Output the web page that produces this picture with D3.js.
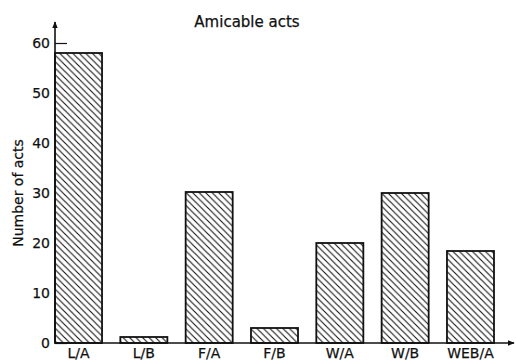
<!DOCTYPE html>
<html>
<head>
<meta charset="utf-8">
<script src="https://cdn.jsdelivr.net/npm/d3@7.9.0/dist/d3.min.js"></script>
<style>
  html, body { margin: 0; padding: 0; background: #fff; }
  svg { display: block; font-family: 'DejaVu Sans', sans-serif; }
  svg text { stroke: #111; stroke-width: 0.25px; }
</style>
</head>
<body>
<div id="chart"></div>
<script>
// DATA
const groups = ['L/A', 'L/B', 'F/A', 'F/B', 'W/A', 'W/B', 'WEB/A'];
const counts = [58, 1.2, 30.2, 3, 20, 30, 18.4];
const yTicks = [0, 10, 20, 30, 40, 50, 60];
const title = 'Amicable acts';
const yLabel = 'Number of acts';

const width = 516;
const height = 362;

const svg = d3.select('#chart')
  .append('svg')
  .attr('width', width)
  .attr('height', height);

// hatch pattern
const hs = 6.5;
const defs = svg.append('defs');
defs.append('pattern')
  .attr('id', 'hatch')
  .attr('patternUnits', 'userSpaceOnUse')
  .attr('width', hs)
  .attr('height', hs)
  .call(p => {
    p.append('rect').attr('width', hs).attr('height', hs).attr('fill', '#fff');
    p.append('path')
      .attr('d', `M-1,-1 L${hs + 1},${hs + 1} M${-hs - 1},-1 L1,${hs + 1} M${hs - 1},-1 L${2 * hs + 1},${hs + 1}`)
      .attr('stroke', '#111')
      .attr('stroke-width', 1.1);
  });

defs.append('marker')
  .attr('id', 'arrow')
  .attr('viewBox', '0 0 10 10')
  .attr('refX', 9)
  .attr('refY', 5)
  .attr('markerWidth', 7)
  .attr('markerHeight', 7)
  .attr('markerUnits', 'userSpaceOnUse')
  .attr('orient', 'auto')
  .append('path')
  .attr('d', 'M0,1 L10,5 L0,9 Z')
  .attr('fill', '#111');

const x = d3.scaleBand()
  .domain(groups)
  .range([55, 494])
  .paddingInner(0.28)
  .paddingOuter(0);

const y = d3.scaleLinear()
  .domain([0, 60])
  .range([343, 43]);

// y axis (ticks point inwards, hidden behind bars)
const yAxis = svg.append('g')
  .attr('transform', `translate(${x.range()[0]},0)`)
  .call(d3.axisLeft(y).tickValues(yTicks).tickSize(-12).tickPadding(5));
yAxis.select('.domain').remove();
yAxis.selectAll('line').attr('stroke', '#111').attr('stroke-width', 1.2);
yAxis.selectAll('text')
  .attr('fill', '#111')
  .style('font-size', '14px')
  .style('font-family', "'DejaVu Sans', sans-serif");

// bars
svg.append('g')
  .selectAll('rect')
  .data(groups.map((g, i) => ({ g, v: counts[i] })))
  .join('rect')
  .attr('x', d => x(d.g))
  .attr('y', d => y(d.v))
  .attr('width', x.bandwidth())
  .attr('height', d => y(0) - y(d.v))
  .attr('fill', 'url(#hatch)')
  .attr('stroke', '#111')
  .attr('stroke-width', 1.8);

// axis lines with arrows
svg.append('line')
  .attr('x1', x.range()[0]).attr('x2', x.range()[0])
  .attr('y1', y(0)).attr('y2', y(64.2))
  .attr('stroke', '#111').attr('stroke-width', 1.6)
  .attr('marker-end', 'url(#arrow)');

svg.append('line')
  .attr('x1', x.range()[0]).attr('x2', width - 2)
  .attr('y1', y(0)).attr('y2', y(0))
  .attr('stroke', '#111').attr('stroke-width', 1.6)
  .attr('marker-end', 'url(#arrow)');

// x labels
svg.append('g')
  .selectAll('text')
  .data(groups)
  .join('text')
  .attr('x', d => x(d) + x.bandwidth() / 2)
  .attr('y', 358)
  .attr('text-anchor', 'middle')
  .style('font-size', '14px')
  .attr('fill', '#111')
  .text(d => d);

// TITLE
svg.append('text')
  .attr('x', 247)
  .attr('y', 27)
  .attr('text-anchor', 'middle')
  .style('font-size', '15px')
  .attr('fill', '#111')
  .text(title);

svg.append('text')
  .attr('transform', 'translate(23,193) rotate(-90)')
  .attr('text-anchor', 'middle')
  .style('font-size', '14px')
  .attr('fill', '#111')
  .text(yLabel);
</script>
</body>
</html>
